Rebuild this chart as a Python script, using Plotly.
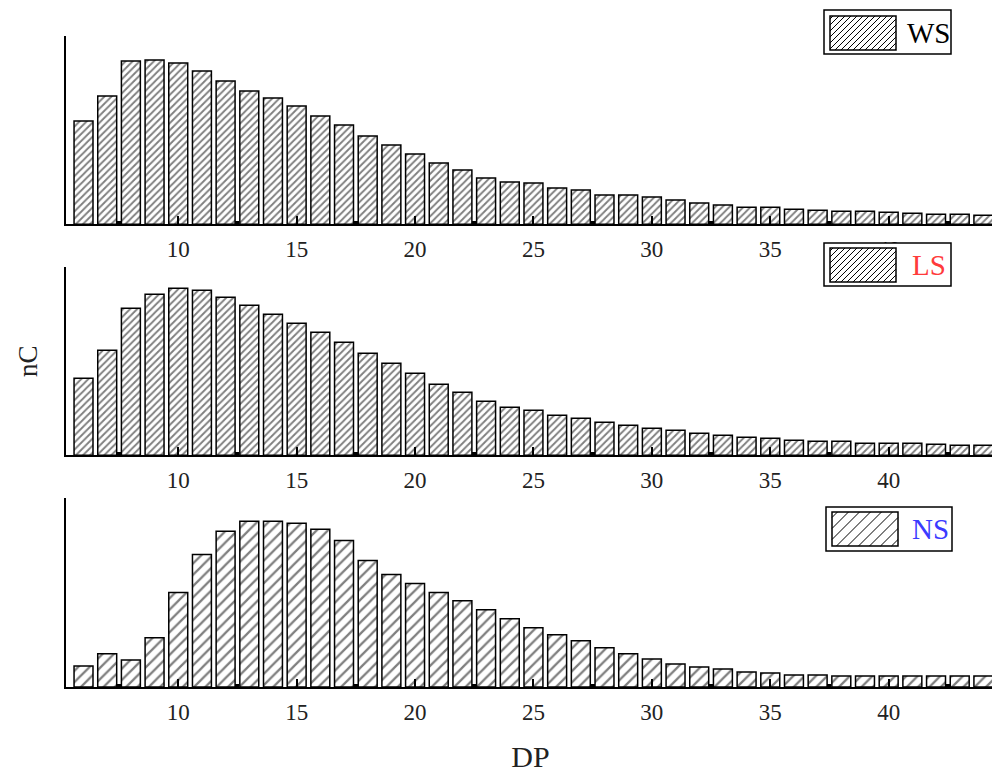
import plotly.graph_objects as go

dp = list(range(6, 45))
ws = [103, 128, 163, 164, 161, 153, 143, 133, 126, 118, 108, 99, 88, 79, 70, 61, 54, 46, 42, 41,
      36, 34, 29, 29, 27, 24, 21, 19, 17, 17, 15, 14, 13, 13, 12, 11, 10, 10, 9]
ls = [77, 105, 147, 161, 167, 165, 158, 150, 141, 132, 123, 113, 102, 92, 82, 71, 63, 54, 48, 45,
      40, 37, 33, 30, 27, 25, 22, 20, 18, 17, 15, 14, 14, 12, 12, 12, 11, 10, 10]
ns = [21, 33, 27, 49, 94, 132, 155, 165, 165, 163, 157, 146, 126, 112, 103, 94, 86, 77, 68, 59,
      52, 46, 39, 33, 28, 23, 20, 18, 15, 14, 12, 12, 11, 11, 11, 11, 11, 11, 11]
tick_vals = [10, 15, 20, 25, 30, 35, 40]
series_names = ["WS", "LS", "NS"]
series_colors = ["black", "#ff3b3b", "#3b3bff"]

# the page body has an 8px margin: size the figure so that it fills the window
OFF = 8
W, H = 1000 - OFF, 774 - OFF
PL, PR, PT, PB = 66, 995, 36, 687          # plot area in window pixels
ML, MR, MT, MB = PL - OFF, W - (PR - OFF), PT - OFF, H - (PB - OFF)
PW, PH = W - ML - MR, H - MT - MB
FONT = "Liberation Serif"


def px2paper(px, py):
    return (px - OFF - ML) / PW, (PB - py) / PH


hatch = [(5, 0.38), (5, 0.38), (8, 0.28)]
axes = [("x", "y"), ("x2", "y2"), ("x3", "y3")]
fig = go.Figure()
for i, vals in enumerate([ws, ls, ns]):
    psize, solid = hatch[i]
    fig.add_trace(go.Bar(
        x=dp, y=vals, name=series_names[i], width=0.8, xaxis=axes[i][0], yaxis=axes[i][1],
        marker=dict(color="white", line=dict(color="black", width=1.5),
                    pattern=dict(shape="/", fgcolor="black", bgcolor="white",
                                 size=psize, solidity=solid)),
        showlegend=False))

ydoms = [[0.711, 1.0], [0.356, 0.645], [0.0, 0.290]]
xcommon = dict(range=[5.26, 44.49], showline=True, linecolor="black", linewidth=2,
               ticks="inside", ticklen=8, tickwidth=2, tickcolor="black",
               tickmode="array", tickvals=tick_vals, showgrid=False, zeroline=False,
               ticklabelstandoff=3,
               tickfont=dict(family=FONT, size=23, color="#222"),
               minor=dict(ticks="inside", ticklen=3, tickwidth=4, tickcolor="black",
                          tickmode="linear", tick0=7.5, dtick=5, showgrid=False),
               domain=[0, 1])
ycommon = dict(showline=True, linecolor="black", linewidth=2, showticklabels=False,
               ticks="", showgrid=False, zeroline=False)

lay = {}
for i, s in enumerate(["", "2", "3"]):
    lay["xaxis" + s] = dict(xcommon, anchor="y" + s)
    lay["yaxis" + s] = dict(ycommon, anchor="x" + s, domain=ydoms[i], range=[0, 188])
lay["xaxis3"]["title"] = dict(text="DP", font=dict(family=FONT, size=30, color="#222"), standoff=22)
lay["yaxis2"]["title"] = dict(text="nC", font=dict(family=FONT, size=27, color="#222"), standoff=19)

# legend boxes (window pixel geometry): box, patch, text centre, hatch spacing
legends = [
    ((824, 10, 951, 54), (830, 16, 896, 50), (929, 33), 6),
    ((824, 243, 951, 286), (830, 248, 896, 282), (929, 265), 6),
    ((826, 507, 952, 551), (832, 512, 898, 546), (930, 529), 11),
]
shapes, annots = [], []
for i, (box, patch, tc, sp) in enumerate(legends):
    x0, y0 = px2paper(box[0], box[3])
    x1, y1 = px2paper(box[2], box[1])
    shapes.append(dict(type="rect", xref="paper", yref="paper", x0=x0, y0=y0, x1=x1, y1=y1,
                       fillcolor="white", line=dict(color="black", width=1.5), layer="above"))
    bx0, by0, bx1, by1 = patch
    ph = by1 - by0
    segs = []
    c = bx0 - ph + sp / 2
    while c < bx1:
        xa, ya = c, by1
        xb, yb = c + ph, by0
        if xa < bx0:
            ya = by1 - (bx0 - c); xa = bx0
        if xb > bx1:
            yb = by1 - (bx1 - c); xb = bx1
        if xb > xa:
            pa = px2paper(xa, ya); pb = px2paper(xb, yb)
            segs.append(f"M{pa[0]:.5f},{pa[1]:.5f} L{pb[0]:.5f},{pb[1]:.5f}")
        c += sp
    shapes.append(dict(type="path", xref="paper", yref="paper", path=" ".join(segs),
                       line=dict(color="black", width=1), layer="above"))
    px0, py0 = px2paper(bx0, by1)
    px1, py1 = px2paper(bx1, by0)
    shapes.append(dict(type="rect", xref="paper", yref="paper", x0=px0, y0=py0, x1=px1, y1=py1,
                       line=dict(color="black", width=1.5), layer="above"))
    tx, ty = px2paper(*tc)
    annots.append(dict(xref="paper", yref="paper", x=tx, y=ty, text=series_names[i],
                       showarrow=False, xanchor="center", yanchor="middle",
                       font=dict(family=FONT, size=29, color=series_colors[i])))

fig.update_layout(**lay)
fig.update_layout(width=W, height=H, plot_bgcolor="white", paper_bgcolor="white",
                  margin=dict(l=ML, r=MR, t=MT, b=MB, autoexpand=False), bargap=0.2,
                  shapes=shapes, annotations=annots, showlegend=False)
fig.write_html("out.html")
